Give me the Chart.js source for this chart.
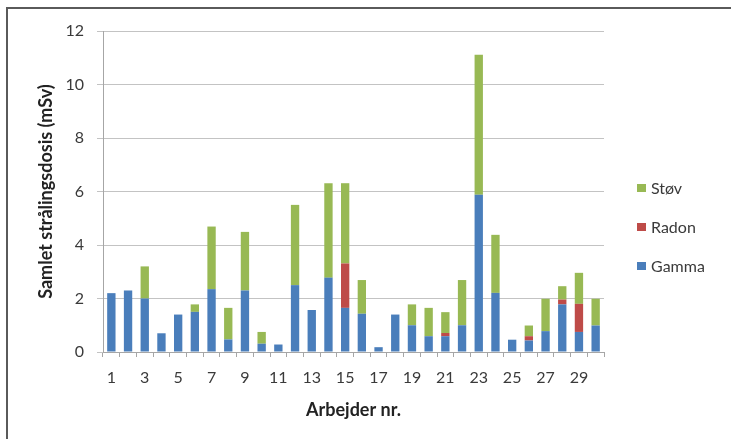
<!DOCTYPE html>
<html>
<head>
<meta charset="utf-8">
<script src="https://cdn.jsdelivr.net/npm/chart.js@4.4.1/dist/chart.umd.min.js"></script>
<style>
  html, body { margin: 0; padding: 0; background: #ffffff; }
  #wrap { position: relative; width: 731px; height: 439px; overflow: hidden; }
  #frame { position: absolute; left: 6px; top: 7px; width: 740px; height: 450px;
           border-top: 2px solid #5a5a5a; border-left: 2px solid #5a5a5a; pointer-events: none; }
  canvas { position: absolute; left: 0; top: 0; }
</style>
</head>
<body>
<div id="wrap">
  <canvas id="c" width="731" height="439"></canvas>
  <div id="frame"></div>
</div>
<script>
const categories = ['1','2','3','4','5','6','7','8','9','10','11','12','13','14','15','16','17','18','19','20','21','22','23','24','25','26','27','28','29','30'];
const gamma = [2.2, 2.3, 2.0, 0.7, 1.4, 1.5, 2.35, 0.47, 2.3, 0.31, 0.28, 2.5, 1.57, 2.78, 1.65, 1.43, 0.18, 1.4, 1.0, 0.59, 0.59, 1.0, 5.88, 2.21, 0.46, 0.43, 0.78, 1.78, 0.75, 0.99];
const radon = [0, 0, 0, 0, 0, 0, 0, 0, 0, 0, 0, 0, 0, 0, 1.66, 0, 0, 0, 0, 0, 0.12, 0, 0, 0, 0, 0.16, 0, 0.18, 1.05, 0];
const stov  = [0, 0, 1.2, 0, 0, 0.28, 2.34, 1.18, 2.19, 0.44, 0, 3.0, 0, 3.53, 3.0, 1.26, 0, 0, 0.78, 1.06, 0.78, 1.69, 5.23, 2.17, 0, 0.4, 1.21, 0.5, 1.16, 1.0];
const seriesNames = ['Gamma', 'Radon', 'Støv'];
const yTicks = [0, 2, 4, 6, 8, 10, 12];
const yTitle = 'Samlet strålingsdosis (mSv)';
const xTitle = 'Arbejder nr.';

const colors = ['#4a7ebb', '#be4b48', '#98b954'];
const FONT = 'Lato, "Liberation Sans", sans-serif';
const TEXT = '#3a3a3a';

const legendPlugin = {
  id: 'sideLegend',
  afterDraw(chart) {
    const ctx = chart.ctx;
    const ds = chart.data.datasets;
    const ys = [188, 227, 266];
    ctx.save();
    ctx.font = '16px ' + FONT;
    ctx.textBaseline = 'middle';
    ctx.textAlign = 'left';
    for (let k = 0; k < ds.length; k++) {
      const d = ds[ds.length - 1 - k];
      const y = ys[k];
      ctx.fillStyle = d.backgroundColor;
      ctx.fillRect(637, y - 4, 9, 8);
      ctx.fillStyle = TEXT;
      ctx.fillText(d.label, 651, y + 1);
    }
    ctx.restore();
  }
};

new Chart(document.getElementById('c'), {
  type: 'bar',
  data: {
    labels: categories,
    datasets: [
      { label: seriesNames[0], data: gamma, backgroundColor: colors[0] },
      { label: seriesNames[1], data: radon, backgroundColor: colors[1] },
      { label: seriesNames[2], data: stov,  backgroundColor: colors[2] }
    ]
  },
  options: {
    responsive: false,
    animation: false,
    devicePixelRatio: 1,
    layout: { padding: { left: 31, right: 127, top: 31, bottom: 14 } },
    datasets: { bar: { categoryPercentage: 1.0, barPercentage: 0.5, borderWidth: 0 } },
    plugins: { legend: { display: false }, tooltip: { enabled: false } },
    scales: {
      x: {
        stacked: true,
        afterFit(scale) { scale.height = 73; },
        grid: { display: true, drawOnChartArea: false, drawTicks: true, tickLength: 5, color: '#a6a6a6', offset: true },
        border: { display: true, color: '#a6a6a6', width: 1 },
        ticks: {
          autoSkip: false, maxRotation: 0, minRotation: 0, padding: 11,
          color: TEXT, font: { family: FONT, size: 16 },
          callback(v, i) { return i % 2 === 0 ? categories[i] : ''; }
        },
        title: { display: true, text: xTitle, color: '#222222', font: { family: FONT, size: 18, weight: 'bold' }, padding: { top: 4, bottom: 4 } }
      },
      y: {
        stacked: true,
        min: yTicks[0], max: yTicks[yTicks.length - 1],
        afterFit(scale) { scale.width = 72; },
        afterBuildTicks(scale) { scale.ticks = yTicks.map(v => ({ value: v })); },
        grid: { color: '#c3c3c3', lineWidth: 1, tickLength: 6, drawTicks: true },
        border: { display: true, color: '#a6a6a6', width: 1 },
        ticks: { padding: 13, color: TEXT, font: { family: FONT, size: 16 } },
        title: { display: true, text: yTitle, color: '#222222', font: { family: FONT, size: 18, weight: 'bold' }, padding: { top: 4, bottom: 4 } }
      }
    }
  },
  plugins: [legendPlugin]
});
</script>
</body>
</html>
